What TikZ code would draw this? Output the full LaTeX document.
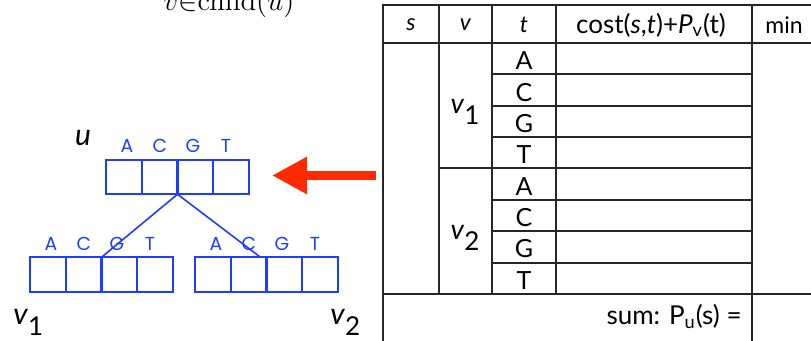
\documentclass[tikz,border=0pt]{standalone}
\usepackage[no-math]{fontspec}
\setmainfont{Lato}
\newfontfamily\geofont{Poppins}
\usetikzlibrary{arrows.meta,calc}

\definecolor{cellblue}{RGB}{30,62,255}
\definecolor{arrowred}{RGB}{255,42,0}

\tikzset{
  cell/.style={draw=cellblue, line width=1pt, minimum width=17.9pt,
    minimum height=17.25pt, inner sep=0pt, outer sep=0pt},
  base/.style={text=cellblue, font=\geofont\fontsize{9.4}{10}\selectfont, inner sep=0pt},
  edge/.style={cellblue, line width=0.8pt},
  grid/.style={line width=1pt, draw=black!85},
  lab/.style={inner sep=0pt, font=\fontsize{15}{15}\selectfont},
}

% v mit Index
\newcommand{\vname}[1]{\textit{v}\raisebox{-5.5pt}{\fontsize{13}{13}\selectfont #1}}

\begin{document}
\begin{tikzpicture}[x=0.5pt, y=-0.5pt]
  \clip (0,0) rectangle (811,341);

  % Formelrest oben
  \node[anchor=base, inner sep=0pt, font=\fontsize{13.3}{14}\selectfont] (idx) at (229,11)
    {$v{\in}\mathrm{child}(u)$};

  % Elternknoten u
  \node[lab, font=\itshape\fontsize{15}{15}\selectfont] (u) at (83,138) {u};
  \foreach \i in {1,...,4}
    \node[cell] (u\i) at ({106+(\i-0.5)*35.75},177) {};
  \foreach \b [count=\i] in {A,C,G,T}
    \node[base] (ub\i) at ({127+(\i-1)*33},146) {\b};

  % Kinder v1 und v2
  \foreach \i in {1,...,4} {
    \node[cell] (a\i) at ({30+(\i-0.5)*35.75},274.5) {};
    \node[cell] (b\i) at ({195+(\i-0.5)*35.75},274.5) {};
  }
  \foreach \b [count=\i] in {A,C,G,T} {
    \node[base] (ab\i) at ({51+(\i-1)*33},244) {\b};
    \node[base] (bb\i) at ({216+(\i-1)*33},244) {\b};
  }
  \node[lab, anchor=base west] (v1) at (13,325) {\vname{1}};
  \node[lab, anchor=base west] (v2) at (330,325) {\vname{2}};

  % Kanten
  \draw[edge] (u2.south east) -- (a2.north east);
  \draw[edge] (u2.south east) -- ($(b2.north west)!0.83!(b2.north east)$);

  % Pfeil
  \coordinate (arrtail) at (376,175.5);
  \coordinate (arrhead) at (272,175.5);
  \draw[arrowred, line width=4.5pt, -{Triangle[length=17.5pt,width=17.5pt]}] (arrtail) -- (arrhead);

  % Tabelle: Linien
  \draw[grid] (383,341) -- (383,5) -- (830,5);
  \draw[grid] (383,43) -- (830,43);
  \draw[grid] (383,294) -- (830,294);
  \foreach \x in {439,492,556}
    \draw[grid] (\x,5) -- (\x,294);
  \draw[grid] (752,5) -- (752,341);
  \draw[grid] (439,168.5) -- (752,168.5);
  \foreach \k in {1,2,3,5,6,7}
    \draw[grid] (492,{43+\k*31.375}) -- (752,{43+\k*31.375});

  % Tabelle: Kopf
  \begin{scope}[every node/.style={inner sep=0pt, font=\fontsize{11.5}{12}\selectfont}]
    \node (hs) at (411,25) {\textit{s}};
    \node (hv) at (465.5,25) {\textit{v}};
    \node (ht) at (524,25) {\textit{t}};
    \node[font=\fontsize{13}{14}\selectfont] (hcost) at (651,25)
      {cost(\textit{s},\textit{t})+\textit{P}\textsubscript{v}(t)};
    \node (hmin) at (784,25) {min};
  \end{scope}

  % Tabelle: Zeilen
  \foreach \b [count=\i] in {A,C,G,T,A,C,G,T}
    \node[inner sep=0pt, font=\fontsize{12.5}{13}\selectfont] (t\i) at (524,{43+(\i-0.5)*31.375+2}) {\b};
  \node[lab, font=\fontsize{14}{14}\selectfont] (tv1) at (465,112) {\vname{1}};
  \node[lab, font=\fontsize{14}{14}\selectfont] (tv2) at (465,238) {\vname{2}};

  % Summenzeile
  \node[anchor=base east, inner sep=0pt, font=\fontsize{13}{14}\selectfont] (sum) at (742,325)
    {sum: P\textsubscript{u}(s) =};
\end{tikzpicture}
\end{document}
